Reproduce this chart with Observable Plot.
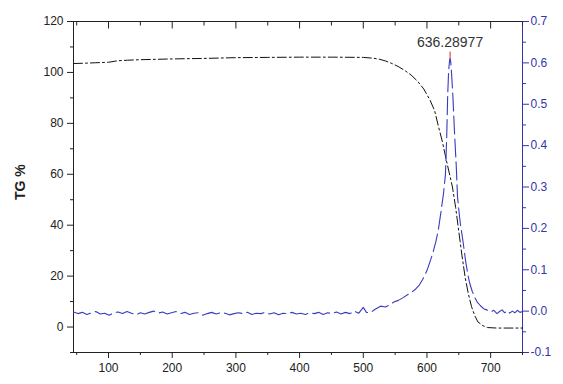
<!DOCTYPE html>
<html>
<head>
<meta charset="utf-8">
<script src="https://cdn.jsdelivr.net/npm/d3@7"></script>
<script src="https://cdn.jsdelivr.net/npm/@observablehq/plot@0.6"></script>
<style>
  html, body { margin: 0; padding: 0; background: #fff; }
  #chart { width: 563px; height: 384px; }
</style>
</head>
<body>
<div id="chart"></div>
<script>
// ---- Data ----
const tgTemp  = [45, 60, 80, 100, 115, 130, 150, 200, 250, 300, 350, 400, 450, 500, 515, 525, 535, 545, 555, 565, 575, 585, 595, 605, 612, 618, 624, 630, 635, 640, 645, 650, 655, 660, 665, 670, 675, 680, 688, 695, 710, 730, 750];
const tgValue = [103.5, 103.6, 103.8, 104.0, 104.6, 104.8, 105.0, 105.3, 105.5, 105.8, 105.9, 106.0, 106.0, 105.9, 105.6, 105.2, 104.5, 103.5, 102.3, 100.8, 99.0, 96.6, 93.5, 89.0, 85.0, 78.8, 73.0, 66.0, 60.5, 55.0, 47.0, 37.5, 28.0, 19.5, 13.0, 8.0, 4.5, 2.0, 0.5, -0.2, -0.4, -0.4, -0.4];

const dtgTemp = [45, 52, 59, 66, 73, 80, 87, 94, 101, 108, 115, 122, 129, 136, 143, 150, 157, 164, 171, 178, 185, 192, 199, 206, 213, 220, 227, 234, 241, 248, 255, 262, 269, 276, 283, 290, 297, 304, 311, 318, 325, 332, 339, 346, 353, 360, 367, 374, 381, 388, 395, 402, 409, 416, 423, 430, 437, 444, 451, 458, 465, 472, 479, 486, 493, 500, 505, 511, 518, 527, 535, 542, 548, 555, 562, 570, 576, 582, 588, 593, 600, 606, 610, 614, 618, 622, 626, 629, 631, 632.5, 634, 635.5, 636.29, 637.5, 639, 641, 643, 646, 648, 651, 653, 656, 658, 661, 664, 667, 671, 675, 679, 684, 689, 694, 700, 705, 710, 714, 718, 722, 726, 730, 734, 738, 742, 746, 750];
const dtgValue = [-0.002, -0.006, -0.003, -0.008, -0.004, -0.001, -0.007, -0.005, -0.010, -0.004, -0.002, -0.006, -0.001, -0.005, -0.009, -0.004, -0.007, -0.003, 0.000, -0.005, -0.002, -0.007, -0.004, -0.001, -0.006, -0.003, -0.008, -0.005, -0.004, -0.010, -0.006, -0.003, -0.007, -0.004, -0.005, -0.009, -0.006, -0.004, -0.006, -0.003, -0.008, -0.005, -0.006, -0.003, -0.007, -0.004, -0.009, -0.005, -0.006, -0.003, -0.007, -0.005, -0.008, -0.004, -0.006, -0.003, -0.008, -0.004, -0.006, -0.002, -0.007, -0.003, -0.006, 0.000, -0.005, 0.009, -0.003, -0.004, 0.004, 0.012, 0.010, 0.016, 0.022, 0.026, 0.032, 0.040, 0.046, 0.053, 0.063, 0.076, 0.098, 0.125, 0.145, 0.168, 0.198, 0.240, 0.285, 0.330, 0.420, 0.520, 0.580, 0.605, 0.612, 0.600, 0.565, 0.510, 0.440, 0.350, 0.275, 0.230, 0.205, 0.175, 0.152, 0.118, 0.090, 0.068, 0.048, 0.033, 0.022, 0.013, 0.006, 0.003, -0.002, 0.002, -0.006, -0.001, 0.003, -0.004, 0.001, -0.005, 0.000, -0.004, 0.002, -0.003, -0.001];

const peakTemp = 636.29;
const peakValue = 0.612;
const peakLabel = "636.28977";

const xMajor = [100, 200, 300, 400, 500, 600, 700];
const xMinor = [50, 150, 250, 350, 450, 550, 650, 750];
const yMajor = [0, 20, 40, 60, 80, 100, 120];
const yMinor = [-10, 10, 30, 50, 70, 90, 110];
const rMajor = [-0.1, 0.0, 0.1, 0.2, 0.3, 0.4, 0.5, 0.6, 0.7];
const rMinor = [-0.05, 0.05, 0.15, 0.25, 0.35, 0.45, 0.55, 0.65];

// ---- Build ----
const tgData = tgTemp.map((t, i) => ({t, v: tgValue[i]}));
const dtgData = dtgTemp.map((t, i) => ({t, v: dtgValue[i]}));

// right axis (DTG) mapped onto the left y domain
const yR = d3.scaleLinear([-0.1, 0.7], [-10, 120]);
const yTop = 120;

// inward tick symbols for the top frame
const tickDown = (len) => ({draw(ctx) { ctx.moveTo(0, 0); ctx.lineTo(0, len); }});

const BLUE = "#3535a8";
const INK = "#222";

const chart = Plot.plot({
  width: 563,
  height: 384,
  marginLeft: 73,
  marginRight: 41,
  marginTop: 21,
  marginBottom: 32,
  x: {domain: [45, 750]},
  y: {domain: [-10, 120]},
  style: {fontFamily: "'Liberation Sans', Arial, sans-serif", fontSize: "12px", background: "#fff", overflow: "visible"},
  marks: [
    // frame
    Plot.ruleY([120], {stroke: INK, strokeWidth: 1}),
    Plot.ruleY([-10], {stroke: INK, strokeWidth: 1}),
    Plot.ruleX([45], {stroke: INK, strokeWidth: 1}),
    Plot.ruleX([750], {stroke: BLUE, strokeWidth: 1}),

    // bottom axis
    Plot.axisX({ticks: xMajor, tickSize: 6, tickPadding: 5, label: null, stroke: INK, fill: INK}),
    Plot.axisX({ticks: xMinor, tickSize: 3, tickFormat: () => "", label: null, stroke: INK}),
    // top axis ticks (inward)
    Plot.dot(xMajor, {x: d => d, y: () => yTop, symbol: tickDown(7), stroke: INK, fill: "none", strokeWidth: 1}),
    Plot.dot(xMinor, {x: d => d, y: () => yTop, symbol: tickDown(4), stroke: INK, fill: "none", strokeWidth: 1}),

    // left axis
    Plot.axisY({ticks: yMajor, tickSize: 6, tickPadding: 4, label: null, stroke: INK, fill: INK}),
    Plot.axisY({ticks: yMinor, tickSize: 3, tickFormat: () => "", label: null, stroke: INK}),

    // right axis (blue)
    Plot.axisY(rMajor.map(d => yR(d)), {anchor: "right", tickSize: 6, tickPadding: 2, tickFormat: d => yR.invert(d).toFixed(1), label: null, stroke: BLUE, fill: BLUE, style: "letter-spacing:1.2px"}),
    Plot.axisY(rMinor.map(d => yR(d)), {anchor: "right", tickSize: 3, tickFormat: () => "", label: null, stroke: BLUE}),

    // y label
    Plot.text(["TG %"], {frameAnchor: "left", rotate: -90, dx: -53, dy: 13, fontSize: 14, fontWeight: "bold", fill: INK}),

    // TG curve
    Plot.line(tgData, {x: "t", y: "v", stroke: "#111", strokeWidth: 1, strokeDasharray: "9,3,2,3"}),

    // DTG curve
    Plot.line(dtgData, {x: "t", y: d => yR(d.v), stroke: "#3a3ac0", strokeWidth: 1.1, strokeDasharray: "18,5"}),

    // peak marker and label
    Plot.ruleX([peakTemp], {y1: yR(peakValue), y2: yR(peakValue + 0.014), stroke: "#e02020", strokeWidth: 1}),
    Plot.text([peakLabel], {x: peakTemp, y: yR(peakValue), dy: -15, text: d => d, fontSize: 14, fill: "#333", style: "letter-spacing:0.4px"})
  ]
});

document.getElementById("chart").appendChild(chart);
</script>
</body>
</html>
